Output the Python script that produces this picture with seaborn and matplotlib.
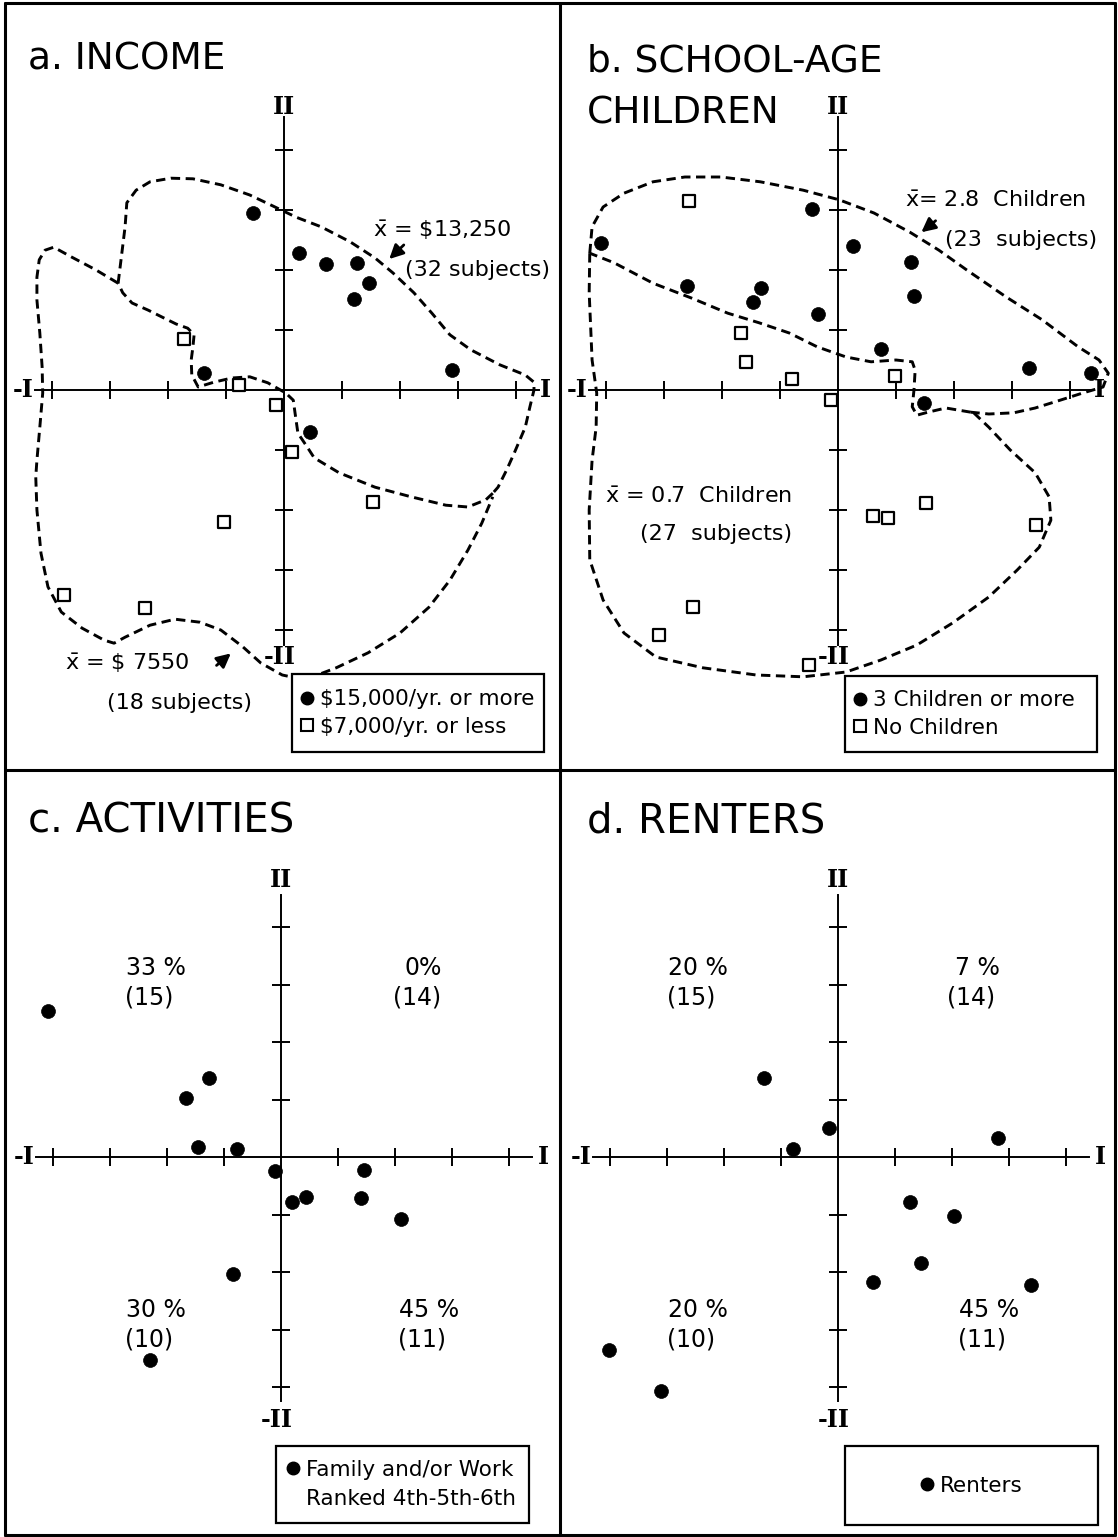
import numpy as np
import pandas as pd
import matplotlib
matplotlib.use("Agg")
import matplotlib.pyplot as plt
from matplotlib.patches import Rectangle
from matplotlib.lines import Line2D
import seaborn as sns

sns.set_theme(style="white")
plt.rcParams['font.family'] = ['DejaVu Sans']
plt.rcParams['mathtext.default'] = 'regular'
plt.rcParams['text.color'] = 'black'
plt.rcParams['legend.labelcolor'] = 'black'

# ------------------------------------------------------------------ data
# Panel a: INCOME
inc_high_x = [-0.53, 0.26, 0.72, 1.26, 1.47, 1.21, 2.90, -1.38, 0.45]
inc_high_y = [2.95, 2.28, 2.10, 2.12, 1.78, 1.52, 0.33, 0.28, -0.70]
inc_low_x = [-1.72, -0.78, -0.14, 0.14, 1.53, -1.03, -3.79, -2.40]
inc_low_y = [0.85, 0.08, -0.25, -1.03, -1.87, -2.20, -3.42, -3.63]

# contour pieces (panel a)
a_shared_x = [3.60, 3.48, 3.17, 2.79, 2.19, 1.57, 0.95, 0.52, 0.40, 0.24, 0.19, 0.16, 0.03,
              -0.28, -0.59, -0.90, -1.21, -1.48, -1.59, -1.60, -1.57, -1.55, -1.66, -1.86,
              -2.07, -2.34, -2.62, -2.78, -2.86]
a_shared_y = [-1.72, -1.83, -1.95, -1.92, -1.78, -1.62, -1.38, -1.13, -0.95, -0.72, -0.38, -0.17,
              -0.05, 0.12, 0.22, 0.20, 0.13, 0.05, 0.25, 0.50, 0.72, 0.92, 1.03, 1.10,
              1.20, 1.33, 1.45, 1.62, 1.78]
a_high_x = [-2.86, -2.81, -2.74, -2.71, -2.55, -2.31, -1.95, -1.57, -1.09, -0.59, -0.22, 0.21,
            0.64, 1.14, 1.57, 1.88, 2.24, 2.55, 2.86, 3.22, 3.72, 4.16, 4.31, 4.31, 4.24,
            4.16, 3.97, 3.84, 3.69, 3.60]
a_high_y = [1.78, 2.17, 2.72, 3.12, 3.33, 3.47, 3.53, 3.52, 3.42, 3.25, 3.08, 2.88,
            2.72, 2.47, 2.20, 1.95, 1.62, 1.28, 0.92, 0.67, 0.42, 0.25, 0.13, 0.0, -0.28,
            -0.62, -1.05, -1.33, -1.62, -1.72]
a_low_x = [-2.86, -3.24, -3.67, -3.97, -4.12, -4.22, -4.26, -4.26, -4.21, -4.17, -4.16, -4.21,
           -4.26, -4.28, -4.26, -4.19, -4.07, -3.84, -3.48, -3.10, -2.93, -2.74, -2.31, -1.88,
           -1.45, -1.09, -0.71, -0.40, -0.03, 0.36, 0.90, 1.45, 2.00, 2.50, 2.86, 3.17,
           3.41, 3.60]
a_low_y = [1.78, 2.00, 2.22, 2.38, 2.33, 2.17, 1.88, 1.50, 0.95, 0.38, -0.05, -0.62,
           -1.17, -1.45, -2.00, -2.72, -3.28, -3.70, -3.97, -4.17, -4.22, -4.12, -3.92, -3.82,
           -3.87, -4.00, -4.28, -4.55, -4.75, -4.83, -4.63, -4.38, -4.05, -3.62, -3.17, -2.67,
           -2.22, -1.78]

# Panel b: SCHOOL-AGE CHILDREN
kids3_x = [-4.09, -0.45, 0.26, 1.26, 1.31, -2.60, -1.33, -1.47, -0.34, 0.74, 3.29, 4.36, 1.48]
kids3_y = [2.45, 3.02, 2.40, 2.13, 1.57, 1.73, 1.70, 1.47, 1.27, 0.68, 0.37, 0.28, -0.22]
kids0_x = [-2.57, -1.67, -1.59, -0.79, -0.12, 0.98, 1.52, 0.60, 0.86, 3.41, -2.50, -3.09, -0.50]
kids0_y = [3.15, 0.95, 0.47, 0.18, -0.17, 0.23, -1.88, -2.10, -2.13, -2.25, -3.62, -4.08, -4.58]

b_shared_x = [2.29, 1.86, 1.55, 1.36, 1.28, 1.31, 1.33, 1.28, 1.00, 0.57, 0.14, -0.36, -0.84,
              -1.36, -1.90, -2.52, -3.19, -3.86, -4.28]
b_shared_y = [-0.37, -0.30, -0.37, -0.42, -0.28, 0.0, 0.33, 0.47, 0.50, 0.47, 0.55, 0.72, 0.95,
              1.12, 1.28, 1.53, 1.78, 2.12, 2.28]
b_high_x = [-4.28, -4.24, -4.05, -3.69, -3.19, -2.64, -2.02, -1.34, -0.60, 0.02, 0.62, 1.24,
            1.74, 2.22, 2.90, 3.52, 4.14, 4.50, 4.66, 4.57, 4.22, 3.83, 3.40, 3.03, 2.60, 2.29]
b_high_y = [2.28, 2.72, 3.05, 3.28, 3.47, 3.55, 3.55, 3.47, 3.33, 3.17, 2.95, 2.63,
            2.33, 2.00, 1.55, 1.17, 0.72, 0.50, 0.28, 0.05, -0.05, -0.17, -0.30, -0.38, -0.40, -0.37]
b_low_x = [-4.28, -4.29, -4.24, -4.16, -4.17, -4.24, -4.29, -4.28, -4.05, -3.69, -3.14, -2.33,
           -1.41, -0.60, 0.14, 0.74, 1.36, 1.98, 2.60, 3.09, 3.47, 3.67, 3.64, 3.40, 2.97,
           2.60, 2.34]
b_low_y = [2.28, 1.62, 0.50, -0.05, -0.62, -1.17, -2.00, -2.83, -3.50, -4.05, -4.45, -4.63,
           -4.75, -4.78, -4.70, -4.50, -4.25, -3.88, -3.45, -3.00, -2.62, -2.17, -1.78, -1.38, -1.00,
           -0.62, -0.38]

# Panel c: ACTIVITIES
act_x = [-4.09, -1.67, -1.26, -1.46, -0.77, -0.11, 0.44, 0.19, 1.46, 1.40, 2.11, -0.84, -2.30]
act_y = [2.54, 1.03, 1.37, 0.17, 0.14, -0.24, -0.70, -0.78, -0.23, -0.71, -1.08, -2.03, -3.53]
act_pct = ["33 %", "0%", "30 %", "45 %"]
act_n = ["(15)", "(14)", "(10)", "(11)"]

# Panel d: RENTERS
rent_x = [-1.30, -0.16, -0.79, 2.81, 1.26, 2.04, 1.46, 0.61, 3.39, -4.02, -3.11]
rent_y = [1.37, 0.50, 0.14, 0.33, -0.78, -1.03, -1.84, -2.17, -2.23, -3.36, -4.07]
rent_pct = ["20 %", "7 %", "20 %", "45 %"]
rent_n = ["(15)", "(14)", "(10)", "(11)"]

# ------------------------------------------------------------------ layout
W, H = 1118, 1537
fig = plt.figure(figsize=(W / 100, H / 100), dpi=100)
fig.patch.set_facecolor('white')

cells = {'a': (5, 560, 3, 770), 'b': (560, 1115, 3, 770),
         'c': (5, 560, 770, 1535), 'd': (560, 1115, 770, 1535)}
origins = {'a': (284, 390, 58, 60), 'b': (838, 390, 58, 60),
           'c': (281, 1157, 57, 57.5), 'd': (838, 1157, 57, 57.5)}

axes = {}
for k, (l, r, t, b) in cells.items():
    ox, oy, sx, sy = origins[k]
    ax = fig.add_axes([l / W, 1 - b / H, (r - l) / W, (b - t) / H])
    ax.set_xlim((l - ox) / sx, (r - ox) / sx)
    ax.set_ylim((oy - b) / sy, (oy - t) / sy)
    ax.patch.set_alpha(0)
    for s in ['top', 'right']:
        ax.spines[s].set_visible(False)
    ax.spines['left'].set_position(('data', 0))
    ax.spines['bottom'].set_position(('data', 0))
    ax.spines['bottom'].set_bounds(-4.3, 4.4)
    ax.spines['left'].set_bounds(-4.25, 4.55)
    for s in ['left', 'bottom']:
        ax.spines[s].set_color('black')
        ax.spines[s].set_linewidth(1.4)
    ticks = [-4, -3, -2, -1, 1, 2, 3, 4]
    ax.set_xticks(ticks)
    ax.set_yticks(ticks)
    ax.set_xticklabels([])
    ax.set_yticklabels([])
    ax.tick_params(axis='both', direction='inout', length=13, width=1.4, color='black',
                   bottom=True, left=True)
    ax.set_xlabel('')
    ax.set_ylabel('')
    axes[k] = ax

# panel borders
border_kw = dict(color='black', lw=2.2, transform=fig.transFigure)
for (x0, y0, x1, y1) in [(5, 3, 1115, 3), (5, 1535, 1115, 1535), (5, 3, 5, 1535),
                         (1115, 3, 1115, 1535), (560, 3, 560, 1535), (5, 770, 1115, 770)]:
    fig.add_artist(Line2D([x0 / W, x1 / W], [1 - y0 / H, 1 - y1 / H], **border_kw))

roman_kw = dict(family='DejaVu Serif', fontsize=17, color='black', fontweight='bold')


def roman(ax, xr, yt, yb):
    ax.text(-4.32, 0, "-I", ha='right', va='center', **roman_kw)
    ax.text(xr, 0, "I", ha='left', va='center', **roman_kw)
    ax.text(0, yt, "II", ha='center', va='center', **roman_kw)
    ax.text(-0.08, yb, "-II", ha='center', va='center', **roman_kw)


dash = (0, (3.2, 1.9))
title_kw = dict(fontsize=27, ha='left', va='center', color='black')
title2_kw = dict(fontsize=29, ha='left', va='center', color='black')
txt_kw = dict(fontsize=16, color='black')
pct_kw = dict(fontsize=17, color='black', ha='center', va='center')
leg_fs = 15.5
arrow_kw = dict(arrowstyle='-|>,head_length=0.7,head_width=0.35', color='black', lw=2)


def box(ax, x0, y0, w, h):
    ax.add_patch(Rectangle((x0, y0), w, h, transform=ax.transAxes, facecolor='white',
                           edgecolor='black', lw=1.6, zorder=6))


circ_h = Line2D([], [], marker='o', ls='', color='black', markersize=9)
sq_h = Line2D([], [], marker='s', ls='', markerfacecolor='white', markeredgecolor='black',
              markeredgewidth=1.5, markersize=8.5)
blank_h = Line2D([], [], marker='', ls='', color='none')

# ------------------------------------------------------------------ panel a
ax = axes['a']
for xs, ys in [(a_shared_x, a_shared_y), (a_high_x, a_high_y), (a_low_x, a_low_y)]:
    ax.plot(xs, ys, color='black', lw=2.1, ls=dash, zorder=2)
sns.scatterplot(x=inc_high_x, y=inc_high_y, ax=ax, marker='o', s=100, color='black',
                edgecolor='black', linewidth=0.5, legend=False, zorder=5)
sns.scatterplot(x=inc_low_x, y=inc_low_y, ax=ax, marker='s', s=85, color='white',
                edgecolor='black', linewidth=1.6, legend=False, zorder=5)
roman(ax, 4.42, 4.72, -4.45)
ax.text(-4.41, 5.5, "a. INCOME", **title_kw)
ax.text(1.53, 2.67, r"$\bar{x}$ = \$13,250", ha='left', va='center', **txt_kw)
ax.text(2.09, 2.0, "(32 subjects)", ha='left', va='center', **txt_kw)
ax.annotate("", xy=(1.78, 2.15), xytext=(2.1, 2.45), arrowprops=arrow_kw)
ax.text(-3.78, -4.55, r"$\bar{x}$ = \$ 7550", ha='left', va='center', **txt_kw)
ax.annotate("", xy=(-0.88, -4.36), xytext=(-1.2, -4.62), arrowprops=arrow_kw)
ax.text(-3.05, -5.22, "(18 subjects)", ha='left', va='center', **txt_kw)
box(ax, 0.517, 0.023, 0.454, 0.102)
ax.legend([circ_h, sq_h], ["$15,000/yr. or more", "$7,000/yr. or less"], frameon=False,
          loc='center left', bbox_to_anchor=(0.505, 0.074), fontsize=leg_fs, handlelength=0.6,
          handletextpad=0.3, labelspacing=0.35, borderpad=0.2).set_zorder(7)

# ------------------------------------------------------------------ panel b
ax = axes['b']
for xs, ys in [(b_shared_x, b_shared_y), (b_high_x, b_high_y), (b_low_x, b_low_y)]:
    ax.plot(xs, ys, color='black', lw=2.1, ls=dash, zorder=2)
sns.scatterplot(x=kids3_x, y=kids3_y, ax=ax, marker='o', s=100, color='black',
                edgecolor='black', linewidth=0.5, legend=False, zorder=5)
sns.scatterplot(x=kids0_x, y=kids0_y, ax=ax, marker='s', s=85, color='white',
                edgecolor='black', linewidth=1.6, legend=False, zorder=5)
roman(ax, 4.42, 4.72, -4.45)
ax.text(-4.33, 5.47, "b. SCHOOL-AGE", **title_kw)
ax.text(-4.33, 4.6, "CHILDREN", **title_kw)
ax.text(1.16, 3.15, r"$\bar{x}$= 2.8  Children", ha='left', va='center', **txt_kw)
ax.text(1.84, 2.5, "(23  subjects)", ha='left', va='center', **txt_kw)
ax.annotate("", xy=(1.4, 2.6), xytext=(1.72, 2.85), arrowprops=arrow_kw)
ax.text(-4.02, -1.78, r"$\bar{x}$ = 0.7  Children", ha='left', va='center', **txt_kw)
ax.text(-3.41, -2.4, "(27  subjects)", ha='left', va='center', **txt_kw)
box(ax, 0.514, 0.023, 0.454, 0.100)
ax.legend([circ_h, sq_h], ["3 Children or more", "No Children"], frameon=False,
          loc='center left', bbox_to_anchor=(0.502, 0.073), fontsize=leg_fs, handlelength=0.6,
          handletextpad=0.3, labelspacing=0.35, borderpad=0.2).set_zorder(7)

# ------------------------------------------------------------------ panel c
ax = axes['c']
sns.scatterplot(x=act_x, y=act_y, ax=ax, marker='o', s=100, color='black',
                edgecolor='black', linewidth=0.5, legend=False, zorder=5)
roman(ax, 4.5, 4.82, -4.57)
ax.text(-4.44, 5.83, "c. ACTIVITIES", **title2_kw)
quad_pos = [(-2.2, 1), (2.5, 1), (-2.2, -1), (2.6, -1)]
for (qx, qs), p, n in zip(quad_pos, act_pct, act_n):
    yp = 3.29 if qs > 0 else -2.66
    yn = 2.78 if qs > 0 else -3.17
    ax.text(qx, yp, p, **pct_kw)
    ax.text(qx - 0.12, yn, n, **pct_kw)
box(ax, 0.488, 0.016, 0.456, 0.10)
ax.legend([circ_h, blank_h], ["Family and/or Work", "Ranked 4th-5th-6th"], frameon=False,
          loc='center left', bbox_to_anchor=(0.48, 0.066), fontsize=leg_fs, handlelength=0.6,
          handletextpad=0.3, labelspacing=0.45, borderpad=0.2).set_zorder(7)

# ------------------------------------------------------------------ panel d
ax = axes['d']
sns.scatterplot(x=rent_x, y=rent_y, ax=ax, marker='o', s=100, color='black',
                edgecolor='black', linewidth=0.5, legend=False, zorder=5)
roman(ax, 4.5, 4.82, -4.57)
ax.text(-4.40, 5.83, "d. RENTERS", **title2_kw)
quad_pos = [(-2.45, 1), (2.45, 1), (-2.45, -1), (2.65, -1)]
for (qx, qs), p, n in zip(quad_pos, rent_pct, rent_n):
    yp = 3.29 if qs > 0 else -2.66
    yn = 2.78 if qs > 0 else -3.17
    ax.text(qx, yp, p, **pct_kw)
    ax.text(qx - 0.12, yn, n, **pct_kw)
box(ax, 0.514, 0.013, 0.456, 0.103)
ax.legend([circ_h], ["Renters"], frameon=False,
          loc='center', bbox_to_anchor=(0.742, 0.0645), fontsize=leg_fs, handlelength=0.6,
          handletextpad=0.3, borderpad=0.2).set_zorder(7)

fig.savefig("out.png", dpi=100, facecolor='white')
